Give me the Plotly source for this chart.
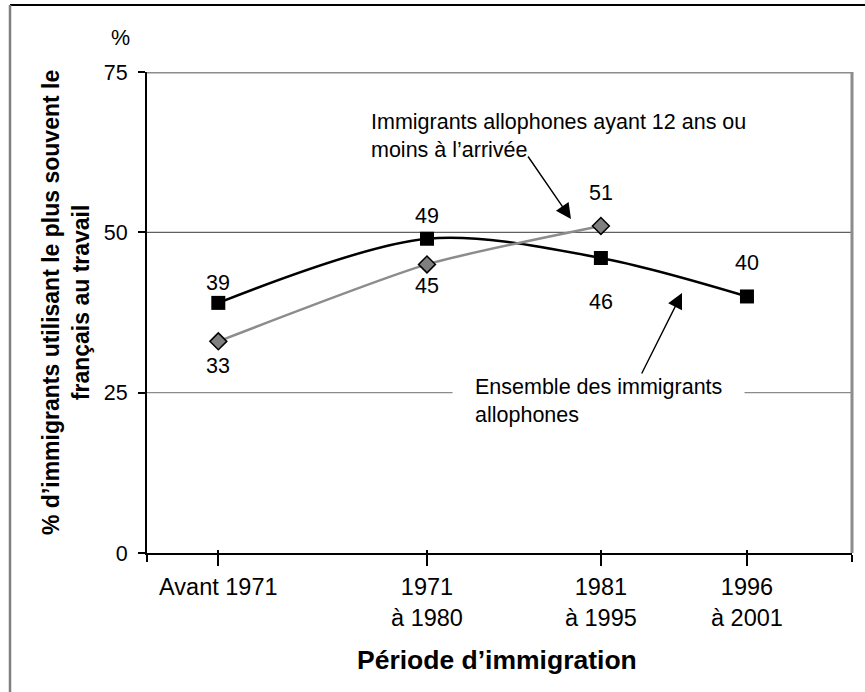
import plotly.graph_objects as go

# Périodes d'immigration (libellés) et année médiane de chaque période
periods = ["Avant 1971", "1971<br>à 1980", "1981<br>à 1995", "1996<br>à 2001"]
period_mid = [1960.5, 1975.5, 1988, 1998.5]

# % d'immigrants allophones utilisant le plus souvent le français au travail
ensemble = [39, 49, 46, 40]          # ensemble des immigrants allophones
arrives_jeunes = [33, 45, 51]        # arrivés à 12 ans ou moins

y_ticks = [0, 25, 50, 75]

FONT = "Liberation Sans, Arial, sans-serif"
X_RANGE = [1955.375, 2006.05]
Y_RANGE = [0, 75]
TXT = 21.5

# Décalages verticaux (px) des étiquettes de valeur
shift_ensemble = [20, 23, -44, 33]
shift_jeunes = [-25, -22, 33]

fig = go.Figure()

fig.add_trace(go.Scatter(
    x=period_mid, y=ensemble, mode="lines+markers",
    line=dict(color="black", width=2.5, shape="spline", smoothing=0.9),
    marker=dict(symbol="square", size=14, color="black"),
    showlegend=False, hoverinfo="skip",
))
fig.add_trace(go.Scatter(
    x=period_mid[:len(arrives_jeunes)], y=arrives_jeunes, mode="lines+markers",
    line=dict(color="#8c8c8c", width=2.5, shape="spline", smoothing=0.6),
    marker=dict(symbol="diamond", size=13, color="#7f7f7f",
                line=dict(color="black", width=1.5)),
    showlegend=False, hoverinfo="skip",
))
# trace vide pour l'axe superposé (graduations intérieures)
fig.add_trace(go.Scatter(x=[None], y=[None], xaxis="x2", showlegend=False,
                         hoverinfo="skip"))

# Lignes de quadrillage et cadre du graphique
grid_colors = {25: "#8a8a8a", 50: "#606060"}
shapes = []
for yv, col in grid_colors.items():
    shapes.append(dict(type="line", xref="paper", yref="y", x0=0, x1=1,
                       y0=yv, y1=yv, line=dict(color=col, width=1.3),
                       layer="below"))
shapes.append(dict(type="line", xref="paper", yref="y", x0=0, x1=1,
                   y0=75, y1=75, line=dict(color="#8c8c8c", width=3)))
shapes.append(dict(type="line", xref="paper", yref="y", x0=1, x1=1,
                   y0=0, y1=75, line=dict(color="#8c8c8c", width=3)))
# cadre extérieur (haut et gauche)
shapes.append(dict(type="line", xref="paper", yref="paper",
                   x0=(10 - 147) / 705, x1=(866 - 147) / 705,
                   y0=(553 - 5) / 481, y1=(553 - 5) / 481,
                   line=dict(color="black", width=2)))
shapes.append(dict(type="line", xref="paper", yref="paper",
                   x0=(10 - 147) / 705, x1=(10 - 147) / 705,
                   y0=(553 - 5) / 481, y1=(553 - 693) / 481,
                   line=dict(color="#808080", width=2.5)))

annotations = []
# étiquettes de valeur
for xs, ys, shifts in ((period_mid, ensemble, shift_ensemble),
                       (period_mid, arrives_jeunes, shift_jeunes)):
    for xv, yv, sh in zip(xs, ys, shifts):
        annotations.append(dict(x=xv, y=yv, xref="x", yref="y", text=str(yv),
                                showarrow=False, yshift=sh,
                                xanchor="center", yanchor="middle",
                                font=dict(family=FONT, size=TXT, color="black")))

# libellés des séries
annotations.append(dict(
    x=(369 - 147) / 705, y=65.0, xref="paper", yref="y",
    text="Immigrants allophones ayant 12 ans ou<br>moins à l’arrivée",
    showarrow=False, xanchor="left", yanchor="middle", align="left",
    font=dict(family=FONT, size=TXT, color="black"),
))
annotations.append(dict(
    x=(452 - 147) / 705, y=23.7, xref="paper", yref="y",
    text="Ensemble des immigrants<br>allophones",
    showarrow=False, xanchor="left", yanchor="middle", align="left",
    bgcolor="white", borderpad=22,
    font=dict(family=FONT, size=TXT, color="black"),
))
# flèches
for (hx, hy), (tx, ty) in (((1985.85, 52.08), (1982.69, 62.06)),
                           ((1993.83, 40.54), (1990.88, 27.76))):
    annotations.append(dict(
        x=hx, y=hy, ax=tx, ay=ty, xref="x", yref="y", axref="x", ayref="y",
        text="", showarrow=True, arrowhead=2, arrowsize=2.2, arrowwidth=1.4,
        arrowcolor="black",
    ))

# titres des axes
annotations.append(dict(
    x=(497 - 147) / 705, y=(553 - 660) / 481, xref="paper", yref="paper",
    text="<b>Période d’immigration</b>", showarrow=False,
    xanchor="center", yanchor="middle",
    font=dict(family=FONT, size=26.5, color="black"),
))
annotations.append(dict(
    x=(66 - 147) / 705, y=(553 - 303) / 481, xref="paper", yref="paper",
    text="<b>% d’immigrants utilisant le plus souvent le<br>français au travail</b>",
    showarrow=False, textangle=-90, xanchor="center", yanchor="middle",
    font=dict(family=FONT, size=23, color="black"),
))
annotations.append(dict(
    x=(120 - 147) / 705, y=(553 - 38) / 481, xref="paper", yref="paper",
    text="%", showarrow=False, xanchor="center", yanchor="middle",
    font=dict(family=FONT, size=TXT, color="black"),
))

fig.update_layout(
    width=865, height=692,
    margin=dict(l=147, r=13, t=72, b=139),
    paper_bgcolor="white", plot_bgcolor="white",
    font=dict(family=FONT, color="black"),
    shapes=shapes, annotations=annotations,
    xaxis=dict(
        range=X_RANGE, tickmode="array", tickvals=period_mid, ticktext=periods,
        ticks="outside", ticklen=11, tickwidth=1.5, tickcolor="black",
        showgrid=False, zeroline=False, showline=True, linecolor="black",
        linewidth=2, tickfont=dict(family=FONT, size=23.5, color="black"),
        ticklabelstandoff=1,
        minor=dict(tickmode="array",
                   tickvals=[X_RANGE[0] + 0.01, X_RANGE[1] - 0.01],
                   ticks="outside", ticklen=7, tickwidth=1.5,
                   tickcolor="black"),
    ),
    xaxis2=dict(
        range=X_RANGE, overlaying="x", anchor="y", side="bottom",
        tickmode="array", tickvals=period_mid, ticks="inside", ticklen=3,
        tickwidth=1.5, tickcolor="black", showticklabels=False,
        showgrid=False, zeroline=False, showline=False,
    ),
    yaxis=dict(
        range=Y_RANGE, tickmode="array", tickvals=y_ticks,
        ticks="outside", ticklen=7, tickwidth=1.5, tickcolor="black",
        showgrid=False, zeroline=False, showline=True, linecolor="black",
        linewidth=2, tickfont=dict(family=FONT, size=TXT, color="black"),
        ticklabelstandoff=6,
    ),
)

fig.write_html("out.html")
